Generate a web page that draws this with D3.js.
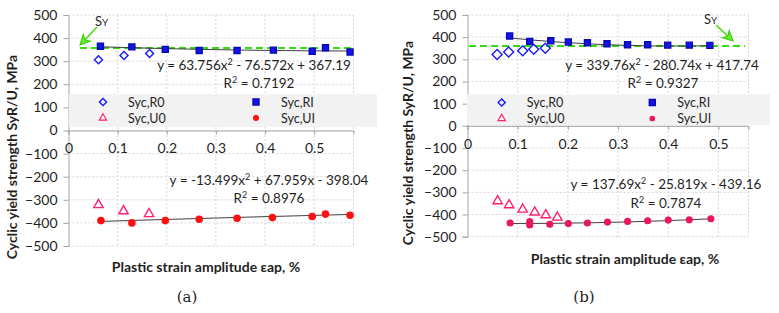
<!DOCTYPE html>
<html>
<head>
<meta charset="utf-8">
<script src="https://cdn.jsdelivr.net/npm/d3@7"></script>
<style>
  body { margin: 0; background: #fff; }
  text { font-family: Lato, "Open Sans", sans-serif; fill: #1f1f1f; }
</style>
</head>
<body>
<div id="chart"></div>
<script>
// ticks
var xTicks = [0, 0.1, 0.2, 0.3, 0.4, 0.5];
var yTicks = [-500, -400, -300, -200, -100, 0, 100, 200, 300, 400, 500];

// panel (a) values: [plastic strain amplitude %, MPa]
var aR0 = [[0.061, 306], [0.113, 325], [0.165, 333]];
var aRI = [[0.065, 365], [0.129, 362], [0.197, 351], [0.266, 346], [0.343, 346],
           [0.417, 348], [0.496, 343], [0.523, 358], [0.573, 340]];
var aU0 = [[0.061, -322], [0.112, -349], [0.164, -361]];
var aUI = [[0.066, -390], [0.129, -400], [0.197, -390], [0.266, -384], [0.343, -380],
           [0.415, -377], [0.496, -372], [0.523, -362], [0.573, -367]];
var aFitRI = [63.756, -76.572, 367.19];
var aFitUI = [-13.499, 67.959, -398.04];
var aSy = 357;

// panel (b) values
var bR0 = [[0.059, 322], [0.082, 333], [0.110, 339], [0.132, 345], [0.155, 350]];
var bRI = [[0.084, 405], [0.124, 381], [0.166, 384], [0.201, 378], [0.239, 375], [0.278, 370],
           [0.319, 366], [0.359, 366], [0.399, 364], [0.442, 364], [0.483, 363]];
var bU0 = [[0.060, -339], [0.083, -357], [0.110, -377], [0.134, -390], [0.156, -402], [0.179, -413]];
var bUI = [[0.085, -438], [0.124, -432], [0.124, -447], [0.164, -444], [0.201, -441], [0.239, -438],
           [0.279, -434], [0.319, -431], [0.359, -428], [0.400, -425], [0.442, -424], [0.485, -419]];
var bFitRI = [339.76, -280.74, 417.74];
var bFitUI = [137.69, -25.819, -439.16];
var bSy = 360;

var legendNames = ["Syc,R0", "Syc,RI", "Syc,U0", "Syc,UI"];

var svg = d3.select("#chart").append("svg")
  .attr("width", 779)
  .attr("height", 313);

function drawPanel(p) {
  var x = d3.scaleLinear().domain([0, p.xMax]).range([p.left, p.right]);
  var y = d3.scaleLinear().domain([-500, 500]).range([p.bottom, p.top]);
  var g = svg.append("g");

  // grid
  g.selectAll(".hg").data(yTicks).enter().append("line")
    .attr("x1", p.left).attr("x2", p.right)
    .attr("y1", d => y(d)).attr("y2", d => y(d))
    .attr("stroke", "#d4d4d4").attr("stroke-dasharray", "2,2");
  g.selectAll(".vg").data(xTicks.slice(1).concat([p.xMax])).enter().append("line")
    .attr("x1", d => x(d)).attr("x2", d => x(d))
    .attr("y1", p.top).attr("y2", p.bottom)
    .attr("stroke", "#d4d4d4").attr("stroke-dasharray", "2,2");

  // y axis
  var ya = g.append("g").attr("transform", "translate(" + p.left + ",0)")
    .call(d3.axisLeft(y).tickValues(yTicks).tickSize(5).tickPadding(6));
  ya.select(".domain").attr("stroke", "#a6a6a6");
  ya.selectAll(".tick line").attr("stroke", "#a6a6a6");
  ya.selectAll("text").style("font-size", "14px").attr("fill", "#1f1f1f");

  // x axis at zero
  var xa = g.append("g").attr("transform", "translate(0," + y(0) + ")")
    .call(d3.axisBottom(x).tickValues(xTicks).tickSize(4).tickPadding(9).tickFormat(d3.format("")));
  xa.select(".domain").attr("stroke", "#a6a6a6");
  xa.selectAll(".tick line").attr("stroke", "#a6a6a6");
  xa.selectAll("text").style("font-size", "14px").attr("fill", "#1f1f1f");

  // legend box
  g.append("rect").attr("x", p.legX).attr("y", p.legY)
    .attr("width", p.legW).attr("height", p.legH).attr("fill", "#f2f2f2");

  // Sy line
  g.append("line")
    .attr("x1", p.syX1).attr("x2", p.syX2)
    .attr("y1", y(p.sy)).attr("y2", y(p.sy))
    .attr("stroke", "#33dd11").attr("stroke-width", 2).attr("stroke-dasharray", "7,4");

  // trend lines
  var line = d3.line().x(d => x(d[0])).y(d => y(d[1])).curve(d3.curveMonotoneX);
  [[p.ri, p.fitRI], [p.ui, p.fitUI]].forEach(function(s) {
    var xs = s[0].map(d => d[0]).sort(d3.ascending);
    var pts = xs.map(v => [v, s[1][0] * v * v + s[1][1] * v + s[1][2]]);
    g.append("path").attr("d", line(pts))
      .attr("fill", "none").attr("stroke", "#404040").attr("stroke-width", 1);
  });

  var diamond = d3.symbol().type(d3.symbolSquare).size(p.diaSize);
  var square = d3.symbol().type(d3.symbolSquare).size(36);
  var tri = d3.symbol().type(d3.symbolTriangle).size(38);
  var dot = d3.symbol().type(d3.symbolCircle).size(p.dotSize);

  function marks(data, sym, rot, fill, stroke) {
    g.selectAll(null).data(data).enter().append("path")
      .attr("d", sym)
      .attr("transform", d => "translate(" + x(d[0]) + "," + y(d[1]) + ") rotate(" + rot + ")")
      .attr("fill", fill).attr("stroke", stroke).attr("stroke-width", 1.4);
  }
  marks(p.r0, diamond, 45, "none", "#1a1aff");
  marks(p.ri, square, 0, "#1414e6", "#0a0ab4");
  marks(p.u0, tri, 0, "none", p.triColor);
  marks(p.ui, dot, 0, p.dotColor, p.dotColor);

  // legend entries
  var legSyms = [[d3.symbol().type(d3.symbolSquare).size(26), 45, "none", "#1a1aff"],
                 [square, 0, "#1414e6", "#0a0ab4"],
                 [tri, 0, "none", p.triColor], [dot, 0, p.dotColor, p.dotColor]];
  legendNames.forEach(function(name, i) {
    var col = i % 2, row = Math.floor(i / 2);
    var lx = p.legCols[col], ly = p.legRows[row];
    var s = legSyms[i];
    g.append("path").attr("d", s[0])
      .attr("transform", "translate(" + lx + "," + ly + ") rotate(" + s[1] + ")" + (i >= 2 ? " scale(0.8)" : ""))
      .attr("fill", s[2]).attr("stroke", s[3]).attr("stroke-width", 1.4);
    g.append("text").attr("x", lx + 25).attr("y", ly + 4.5)
      .style("font-size", "12.5px").text(name);
  });

  // equations
  p.eqs.forEach(function(e) {
    var t = g.append("text").attr("x", e.x).attr("y", e.y)
      .attr("text-anchor", "middle").style("font-size", "13.5px");
    var parts = e.text.split("²");
    t.append("tspan").text(parts[0]);
    t.append("tspan").attr("dy", -5).style("font-size", "9px").text("2");
    t.append("tspan").attr("dy", 5).text(parts[1]);
  });

  // Sy label and arrow
  var lab = g.append("text").attr("x", p.syLab[0]).attr("y", p.syLab[1]).style("font-size", "13px");
  lab.append("tspan").text("S");
  lab.append("tspan").style("font-size", "10px").text("Y");
  var a = p.arrow;
  var ang = Math.atan2(a[3] - a[1], a[2] - a[0]);
  g.append("line").attr("x1", a[0]).attr("y1", a[1])
    .attr("x2", a[2] - 6 * Math.cos(ang)).attr("y2", a[3] - 6 * Math.sin(ang))
    .attr("stroke", "#44dd11").attr("stroke-width", 1.5);
  g.append("path")
    .attr("d", "M0,0 L-10,-5 L-7,0 L-10,5 Z")
    .attr("transform", "translate(" + a[2] + "," + a[3] + ") rotate(" + (ang * 180 / Math.PI) + ")")
    .attr("fill", "#66ee33").attr("stroke", "#33cc00").attr("stroke-width", 1);

  // axis titles
  g.append("text").attr("x", p.xtX).attr("y", p.xtY).attr("text-anchor", "middle")
    .style("font-size", "14px").style("font-weight", "bold").text("Plastic strain amplitude εap, %");
  g.append("text").attr("transform", "translate(" + p.ytX + "," + p.ytY + ") rotate(-90)")
    .attr("text-anchor", "middle")
    .style("font-size", "14px").style("font-weight", "bold").text("Cyclic yield strength SyR/U, MPa");

  // caption
  g.append("text").attr("x", p.capX).attr("y", 302).attr("text-anchor", "middle")
    .style("font-family", "'DejaVu Serif', serif").style("font-size", "15px").attr("fill", "#000")
    .text(p.cap);
}

drawPanel({
  left: 68.5, right: 353.5, top: 15, bottom: 246, xMax: 0.58,
  r0: aR0, ri: aRI, u0: aU0, ui: aUI, fitRI: aFitRI, fitUI: aFitUI, sy: aSy,
  syX1: 80, syX2: 353, diaSize: 32, dotSize: 30,
  triColor: "#ff1f77", dotColor: "#ff1010",
  legX: 69, legY: 94, legW: 308, legH: 33, legCols: [103, 256], legRows: [102, 118],
  eqs: [{x: 254, y: 70, text: "y = 63.756x² - 76.572x + 367.19"},
        {x: 259, y: 88, text: "R² = 0.7192"},
        {x: 269, y: 185, text: "y = -13.499x² + 67.959x - 398.04"},
        {x: 269, y: 203, text: "R² = 0.8976"}],
  syLab: [95, 26], arrow: [97, 27, 80, 45],
  xtX: 206, xtY: 272, ytX: 17, ytY: 157, capX: 187, cap: "(a)"
});

drawPanel({
  left: 467.5, right: 748.5, top: 15, bottom: 236.7, xMax: 0.56,
  r0: bR0, ri: bRI, u0: bU0, ui: bUI, fitRI: bFitRI, fitUI: bFitUI, sy: bSy,
  syX1: 469, syX2: 745, diaSize: 50, dotSize: 26,
  triColor: "#ff1f6e", dotColor: "#e8185c",
  legX: 467, legY: 94.5, legW: 303, legH: 30.5, legCols: [501.7, 652.3], legRows: [102.5, 118.5],
  eqs: [{x: 662, y: 70, text: "y = 339.76x² - 280.74x + 417.74"},
        {x: 663, y: 88, text: "R² = 0.9327"},
        {x: 666, y: 189, text: "y = 137.69x² - 25.819x - 439.16"},
        {x: 666, y: 208, text: "R² = 0.7874"}],
  syLab: [704, 24], arrow: [716, 25, 733, 41],
  xtX: 625, xtY: 264, ytX: 413, ytY: 143, capX: 584, cap: "(b)"
});
</script>
</body>
</html>
